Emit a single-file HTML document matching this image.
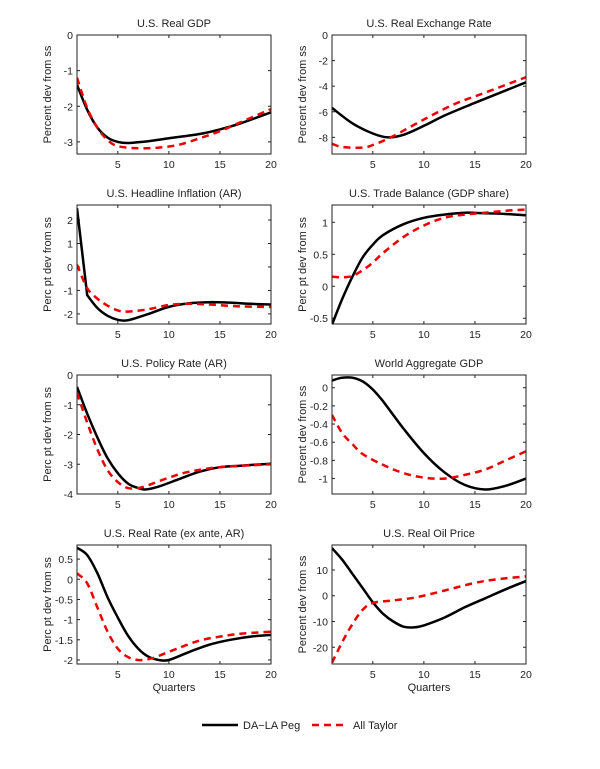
<!DOCTYPE html>
<html><head><meta charset="utf-8"><style>
body{margin:0;background:#fff}
svg text{font-family:"Liberation Sans",Arial,sans-serif;font-size:11px;fill:#222}
svg text.tk{font-size:10.5px}
</style></head><body>
<svg id="s" width="600" height="764" xmlns="http://www.w3.org/2000/svg"></svg>
<script>
const S=document.getElementById('s');let h='';
const cols=[77,332],W=194,tops=[35,205,375,545],H=119;
const P=[
{t:'U.S. Real GDP',yl:'Percent dev from ss',r:[-3.34,0],ticks:[0,-1,-2,-3],
 b:[[1,-1.4],[2,-2.1],[3,-2.6],[4,-2.88],[5,-3.0],[6,-3.03],[8,-2.98],[10,-2.9],[13,-2.78],[15,-2.65],[17,-2.48],[20,-2.17]],
 d:[[1,-1.2],[2,-2.05],[3,-2.6],[4,-2.95],[5,-3.12],[7,-3.18],[9,-3.16],[11,-3.08],[13,-2.9],[15,-2.7],[17,-2.45],[20,-2.08]]},
{t:'U.S. Real Exchange Rate',yl:'Percent dev from ss',r:[-9.3,0],ticks:[0,-2,-4,-6,-8],
 b:[[1,-5.7],[3,-6.9],[5,-7.7],[6.5,-8.0],[8,-7.8],[10,-7.1],[12,-6.3],[15,-5.3],[20,-3.7]],
 d:[[1,-8.5],[2,-8.75],[4,-8.8],[5,-8.6],[7,-7.9],[10,-6.6],[13,-5.4],[16,-4.5],[20,-3.3]]},
{t:'U.S. Headline Inflation (AR)',yl:'Perc pt dev from ss',r:[-2.43,2.64],ticks:[2,1,0,-1,-2],
 b:[[1,2.5],[2,-1.2],[3,-1.75],[4,-2.08],[5,-2.25],[6,-2.27],[8,-2.0],[10,-1.7],[12,-1.55],[14,-1.5],[16,-1.52],[18,-1.57],[20,-1.6]],lin:true,
 d:[[1,0.1],[2,-0.9],[3,-1.35],[4,-1.65],[5,-1.85],[6,-1.9],[8,-1.8],[10,-1.62],[12,-1.57],[14,-1.6],[17,-1.68],[20,-1.7]]},
{t:'U.S. Trade Balance (GDP share)',yl:'Perc pt dev from ss',r:[-0.59,1.27],ticks:[1,0.5,0,-0.5],
 b:[[1,-0.6],[2,-0.2],[3,0.15],[4,0.45],[5,0.65],[6,0.8],[8,0.97],[10,1.07],[12,1.12],[14,1.15],[16,1.14],[18,1.13],[20,1.11]],
 d:[[1,0.15],[2,0.14],[3,0.16],[4,0.25],[5,0.37],[6,0.52],[8,0.77],[10,0.95],[12,1.07],[14,1.12],[16,1.15],[18,1.18],[20,1.2]]},
{t:'U.S. Policy Rate (AR)',yl:'Perc pt dev from ss',r:[-4,0],ticks:[0,-1,-2,-3,-4],
 b:[[1,-0.4],[2,-1.3],[3,-2.1],[4,-2.8],[5,-3.3],[6,-3.65],[7,-3.8],[7.7,-3.85],[9,-3.75],[11,-3.5],[13,-3.25],[15,-3.1],[17,-3.05],[20,-2.98]],
 d:[[1,-0.6],[2,-1.6],[3,-2.5],[4,-3.2],[5,-3.6],[6,-3.8],[7,-3.8],[8,-3.7],[10,-3.45],[12,-3.25],[15,-3.1],[20,-3.0]]},
{t:'World Aggregate GDP',yl:'Percent dev from ss',r:[-1.17,0.14],ticks:[0,-0.2,-0.4,-0.6,-0.8,-1],
 b:[[1,0.08],[2,0.11],[3,0.11],[4,0.07],[5,-0.02],[6,-0.15],[8,-0.45],[10,-0.72],[12,-0.93],[14,-1.07],[16,-1.12],[18,-1.08],[20,-1.0]],
 d:[[1,-0.3],[2,-0.5],[3,-0.62],[4,-0.73],[6,-0.85],[8,-0.94],[10,-0.99],[12,-1.0],[14,-0.96],[16,-0.9],[18,-0.8],[20,-0.7]]},
{t:'U.S. Real Rate (ex ante, AR)',yl:'Perc pt dev from ss',r:[-2.1,0.85],ticks:[0.5,0,-0.5,-1,-1.5,-2],x:1,
 b:[[1,0.78],[2,0.6],[3,0.15],[4,-0.45],[5,-0.95],[6,-1.4],[7,-1.72],[8,-1.92],[9,-2.0],[10,-2.0],[12,-1.8],[14,-1.62],[16,-1.5],[18,-1.42],[20,-1.38]],
 d:[[1,0.15],[2,-0.1],[3,-0.7],[4,-1.3],[5,-1.72],[6,-1.93],[7,-2.0],[8,-1.98],[9,-1.9],[11,-1.7],[13,-1.52],[15,-1.42],[17,-1.35],[20,-1.3]]},
{t:'U.S. Real Oil Price',yl:'Percent dev from ss',r:[-26.5,19.7],ticks:[10,0,-10,-20],x:1,
 b:[[1,18.5],[2,14],[3,8.5],[4,3],[5,-2.5],[6,-7],[7,-10],[8,-12],[9,-12.3],[10,-11.5],[12,-8.5],[14,-4.5],[16,-1],[18,2.5],[20,5.7]],
 d:[[1,-26],[2,-18],[3,-11],[4,-5.5],[5,-2.8],[7,-1.8],[9,-0.8],[11,1],[13,3],[15,5],[17,6.3],[20,7.5]]}
];
function path(pts,X,Y,lin){
 const p=pts.map(q=>[X(q[0]),Y(q[1])]);let s='M'+p[0][0].toFixed(1)+','+p[0][1].toFixed(1);
 for(let i=0;i<p.length-1;i++){
  if(lin&&i==0){s+='L'+p[1][0]+','+p[1][1];continue;}
  const a=p[Math.max(i-1,lin&&i==1?1:0)],b=p[i],c=p[i+1],d=p[Math.min(i+2,p.length-1)];
  s+='C'+(b[0]+(c[0]-a[0])/6).toFixed(1)+','+(b[1]+(c[1]-a[1])/6).toFixed(1)+' '+(c[0]-(d[0]-b[0])/6).toFixed(1)+','+(c[1]-(d[1]-b[1])/6).toFixed(1)+' '+c[0].toFixed(1)+','+c[1].toFixed(1);
 }return s;}
P.forEach((p,i)=>{
 const x0=cols[i%2],y0=tops[Math.floor(i/2)];
 const X=t=>x0+(t-1)/19*W,Y=v=>y0+H-(v-p.r[0])/(p.r[1]-p.r[0])*H;
 const id='c'+i;
 h+=`<clipPath id="${id}"><rect x="${x0}" y="${y0}" width="${W}" height="${H}"/></clipPath>`;
 h+=`<text x="${x0+W/2}" y="${y0-8}" text-anchor="middle">${p.t}</text>`;
 h+=`<text transform="translate(${x0-26},${y0+H/2}) rotate(-90)" text-anchor="middle">${p.yl}</text>`;
 p.ticks.forEach(v=>{const y=Y(v);h+=`<line x1="${x0}" x2="${x0+3}" y1="${y}" y2="${y}" stroke="#222"/><line x1="${x0+W-3}" x2="${x0+W}" y1="${y}" y2="${y}" stroke="#222"/><text class="tk" x="${x0-4}" y="${y+4}" text-anchor="end">${v<0?'-'+(-v):v}</text>`;});
 [5,10,15,20].forEach(t=>{const x=X(t);h+=`<line x1="${x}" x2="${x}" y1="${y0+H}" y2="${y0+H-3}" stroke="#222"/><line x1="${x}" x2="${x}" y1="${y0}" y2="${y0+3}" stroke="#222"/><text class="tk" x="${x}" y="${y0+H+14}" text-anchor="middle">${t}</text>`;});
 if(p.x)h+=`<text x="${x0+W/2}" y="${y0+H+27}" text-anchor="middle">Quarters</text>`;
 h+=`<g clip-path="url(#${id})"><path d="${path(p.b,X,Y,p.lin)}" fill="none" stroke="#000" stroke-width="2.5"/><path d="${path(p.d,X,Y)}" fill="none" stroke="#e00" stroke-width="2.5" stroke-dasharray="7,5"/></g>`;
 h+=`<rect x="${x0}" y="${y0}" width="${W}" height="${H}" fill="none" stroke="#222" stroke-width="1"/>`;
});
h+=`<line x1="202" x2="238" y1="725" y2="725" stroke="#000" stroke-width="2.5"/><text x="243" y="729">DA\u2212LA Peg</text>`;
h+=`<line x1="312" x2="348" y1="725" y2="725" stroke="#e00" stroke-width="2.5" stroke-dasharray="7,5"/><text x="353" y="729">All Taylor</text>`;
S.innerHTML=h;
</script>
</body></html>
